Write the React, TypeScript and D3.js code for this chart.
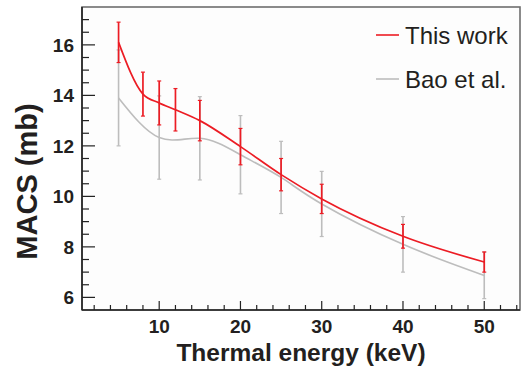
import React, { useEffect, useRef } from "react";
import * as d3 from "d3";

// MACS values
const energies = [5, 8, 10, 12, 15, 20, 25, 30, 40, 50];
const thisWork = [16.1, 14.05, 13.7, 13.43, 13.0, 11.97, 10.86, 9.9, 8.42, 7.4];
const thisWorkErr = [0.8, 0.87, 0.87, 0.84, 0.8, 0.72, 0.64, 0.58, 0.47, 0.4];

const baoEnergies = [5, 10, 15, 20, 25, 30, 40, 50];
const bao = [13.9, 12.33, 12.3, 11.65, 10.75, 9.7, 8.1, 6.87];
const baoErr = [1.9, 1.65, 1.65, 1.55, 1.43, 1.29, 1.1, 0.92];

const xTickLabels = [10, 20, 30, 40, 50];
const yTickLabels = [6, 8, 10, 12, 14, 16];
const legendNames = ["This work", "Bao et al."];

const RED = "#ec1c24";
const GRAY = "#bdbdbd";

const W = 523;
const H = 373;

export default function App() {
  const ref = useRef<SVGSVGElement>(null);

  useEffect(() => {
    const svg = d3.select(ref.current);
    svg.selectAll("*").remove();

    const left = 82, right = 520, top = 7, bottom = 310;
    const x = d3.scaleLinear().domain([0.5, 54.4]).range([left, right]);
    const y = d3.scaleLinear().domain([5.5, 17.5]).range([bottom, top]);

    svg.append("rect")
      .attr("x", left).attr("y", top)
      .attr("width", right - left).attr("height", bottom - top)
      .attr("fill", "#fdfdfd")
      .attr("stroke", "#6f6f6f")
      .attr("stroke-width", 1.6);

    // x ticks (inward)
    const xMinor = d3.range(2, 55, 2);
    svg.append("g").selectAll("line").data(xMinor).join("line")
      .attr("x1", d => x(d)).attr("x2", d => x(d))
      .attr("y1", bottom)
      .attr("y2", d => bottom - (d % 10 === 0 ? 9 : 5))
      .attr("stroke", "#222").attr("stroke-width", 1.2);

    // y ticks (inward)
    const yMinor = d3.range(6, 17.5, 0.5);
    svg.append("g").selectAll("line").data(yMinor).join("line")
      .attr("y1", d => y(d)).attr("y2", d => y(d))
      .attr("x1", left)
      .attr("x2", d => left + (d % 2 === 0 ? 13 : 7))
      .attr("stroke", "#222").attr("stroke-width", 1.2);

    svg.append("line")
      .attr("x1", left).attr("x2", left).attr("y1", top).attr("y2", bottom)
      .attr("stroke", "#222").attr("stroke-width", 1.6);
    svg.append("line")
      .attr("x1", left).attr("x2", right).attr("y1", bottom).attr("y2", bottom)
      .attr("stroke", "#222").attr("stroke-width", 1.6);

    const font = "'Liberation Sans', Arial, Helvetica, sans-serif";

    svg.append("g").selectAll("text").data(xTickLabels).join("text")
      .attr("x", d => x(d)).attr("y", 333)
      .attr("text-anchor", "middle")
      .attr("font-family", font).attr("font-weight", "bold")
      .attr("font-size", 19).attr("fill", "#231f20")
      .text(d => d);

    svg.append("g").selectAll("text").data(yTickLabels).join("text")
      .attr("x", 74).attr("y", d => y(d) + 7)
      .attr("text-anchor", "end")
      .attr("font-family", font).attr("font-weight", "bold")
      .attr("font-size", 19).attr("fill", "#231f20")
      .text(d => d);

    svg.append("text")
      .attr("x", (left + right) / 2).attr("y", 361)
      .attr("text-anchor", "middle")
      .attr("font-family", font).attr("font-weight", "bold")
      .attr("font-size", 24.5).attr("fill", "#231f20")
      .text("Thermal energy (keV)");

    svg.append("text")
      .attr("transform", `translate(37, ${(top + bottom) / 2 + 23}) rotate(-90)`)
      .attr("text-anchor", "middle")
      .attr("font-family", font).attr("font-weight", "bold")
      .attr("font-size", 29).attr("fill", "#231f20")
      .text("MACS (mb)");

    const drawSeries = (xs: number[], ys: number[], errs: number[], color: string, width: number, curve: d3.CurveFactory) => {
      const g = svg.append("g");
      const bars = g.selectAll("g").data(xs.map((e, i) => ({ e, v: ys[i], s: errs[i] }))).join("g");
      bars.append("line")
        .attr("x1", d => x(d.e)).attr("x2", d => x(d.e))
        .attr("y1", d => y(d.v + d.s)).attr("y2", d => y(d.v - d.s))
        .attr("stroke", color).attr("stroke-width", width);
      [1, -1].forEach(sg => {
        bars.append("line")
          .attr("x1", d => x(d.e) - 2).attr("x2", d => x(d.e) + 2)
          .attr("y1", d => y(d.v + sg * d.s)).attr("y2", d => y(d.v + sg * d.s))
          .attr("stroke", color).attr("stroke-width", 1.2);
      });
      const line = d3.line<number>()
        .x((d, i) => x(xs[i]))
        .y(d => y(d))
        .curve(curve);
      g.append("path")
        .attr("d", line(ys))
        .attr("fill", "none")
        .attr("stroke", color)
        .attr("stroke-width", width);
    };

    drawSeries(baoEnergies, bao, baoErr, GRAY, 1.6, d3.curveNatural);
    drawSeries(energies, thisWork, thisWorkErr, RED, 1.7, d3.curveMonotoneX);

    // legend
    const legend = svg.append("g").selectAll("g").data(legendNames).join("g")
      .attr("transform", (d, i) => `translate(0, ${35 + i * 44})`);
    legend.append("line")
      .attr("x1", 376).attr("x2", 399).attr("y1", 0).attr("y2", 0)
      .attr("stroke", (d, i) => (i === 0 ? RED : GRAY)).attr("stroke-width", 1.6);
    legend.append("text")
      .attr("x", 405).attr("y", 8.5)
      .attr("font-family", font)
      .attr("font-size", 24).attr("fill", "#231f20")
      .text(d => d);
  }, []);

  return (
    <svg ref={ref} width={W} height={H}
      style={{ position: "absolute", left: 0, top: 0, background: "#fff" }} />
  );
}
